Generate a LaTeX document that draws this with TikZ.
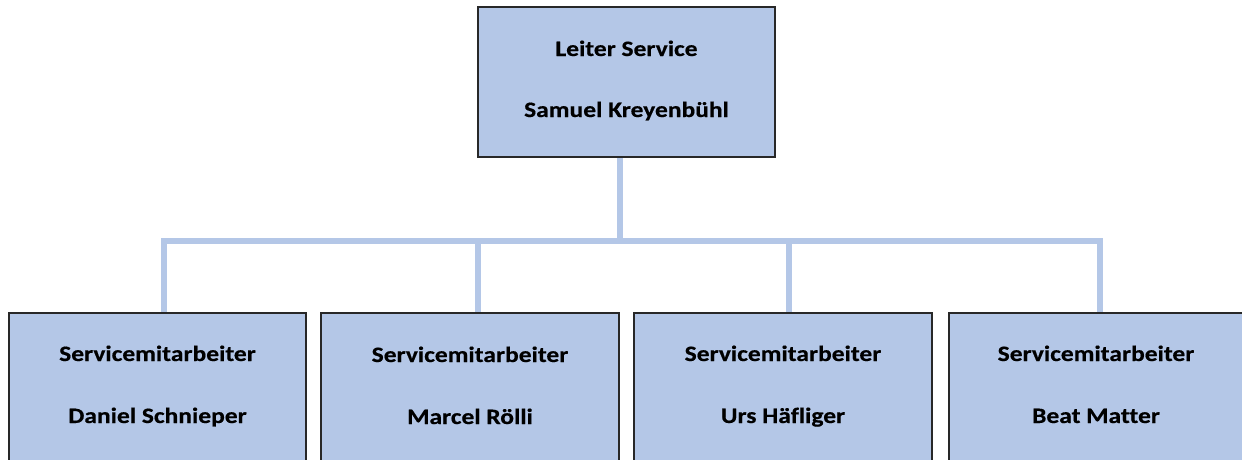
\documentclass[tikz,border=0pt]{standalone}
\usepackage{fontspec}
\setmainfont{Carlito}[FakeStretch=1.16, Ligatures={NoCommon}, BoldFeatures={FakeBold=0.5}]
\definecolor{boxblue}{RGB}{180,199,231}
\definecolor{edge}{RGB}{40,40,40}
\tikzset{
  x=1pt, y=1pt,
  orgbox/.style={draw=edge, line width=1.3pt, fill=boxblue, rectangle,
    minimum width=297pt, minimum height=150pt, inner sep=0pt},
  orgtext/.style={font=\bfseries\fontsize{22}{26}\selectfont, text=black,
    align=center, anchor=base},
  conn/.style={draw=boxblue, line width=6pt, line join=miter, line cap=butt}
}
\begin{document}
\begin{tikzpicture}
\useasboundingbox (0,0) rectangle (1242,-459);
\clip (0,0) rectangle (1242,-459);

% boxes
\node[orgbox] (lead) at (626.5,-82) {};
\node[orgbox] (s1) at (157.5,-388) {};
\node[orgbox] (s2) at (470,-388) {};
\node[orgbox] (s3) at (783,-388) {};
\node[orgbox] (s4) at (1097.5,-388) {};

% bus line and drop points
\coordinate (top) at (620,-241);
\coordinate (b1) at (164,-241);
\coordinate (b2) at (478,-241);
\coordinate (b3) at (789,-241);
\coordinate (b4) at (1100,-241);

\path[conn] (b1 |- s1.north) -- (b1) -- (b4) -- (b4 |- s4.north);
\path[conn] (top |- lead.south) -- (top);
\path[conn] (b2) -- (b2 |- s2.north);
\path[conn] (b3) -- (b3 |- s3.north);

% redraw box borders above the connectors
\foreach \n in {lead,s1,s2,s3,s4}
  \draw[edge, line width=1.3pt] (\n.north west) rectangle (\n.south east);

% labels (placed on their baselines)
\node[orgtext] (lt1) at (626.5,-56) {Leiter Service};
\node[orgtext] (lt2) at (626.5,-117) {Samuel Kreyenbühl};
\node[orgtext] (t1a) at (157.5,-361) {Servicemitarbeiter};
\node[orgtext] (t1b) at (157.5,-423) {Daniel Schnieper};
\node[orgtext] (t2a) at (470,-362) {Servicemitarbeiter};
\node[orgtext] (t2b) at (470,-424) {Marcel Rölli};
\node[orgtext] (t3a) at (783,-361) {Servicemitarbeiter};
\node[orgtext] (t3b) at (783,-423) {Urs Häfliger};
\node[orgtext] (t4a) at (1096,-361) {Servicemitarbeiter};
\node[orgtext] (t4b) at (1096,-423) {Beat Matter};
\end{tikzpicture}
\end{document}
